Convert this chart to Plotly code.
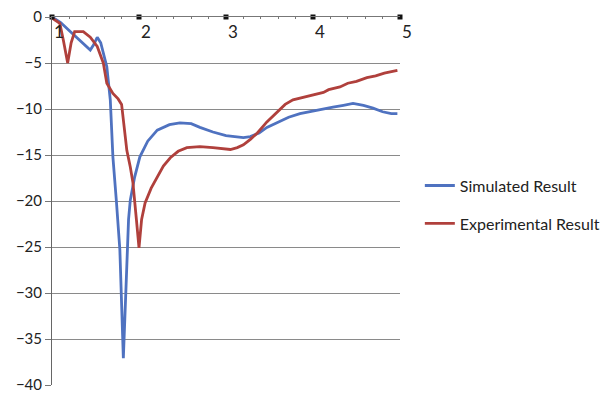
import plotly.graph_objects as go

# Simulated response
sim_x = [1.0, 1.1, 1.2, 1.32, 1.4, 1.44, 1.48, 1.52, 1.56, 1.6, 1.63, 1.67, 1.7, 1.74,
         1.78, 1.82, 1.86, 1.88, 1.9, 1.95, 2.01, 2.1, 2.21, 2.35, 2.47, 2.6, 2.7, 2.85,
         3.0, 3.08, 3.2, 3.28, 3.38, 3.47, 3.6, 3.72, 3.85, 4.0, 4.1, 4.23, 4.35, 4.46,
         4.58, 4.69, 4.8, 4.9, 4.97]
sim_y = [0.0, -0.6, -1.5, -2.5, -3.2, -3.6, -3.0, -2.2, -2.8, -4.2, -5.4, -9.0, -15.2, -20.0,
         -25.3, -37.1, -27.2, -22.0, -19.9, -17.4, -15.2, -13.5, -12.3, -11.7, -11.5, -11.6, -12.0, -12.5,
         -12.9, -13.0, -13.1, -13.0, -12.6, -12.0, -11.4, -10.9, -10.5, -10.2, -10.0, -9.8, -9.6, -9.4,
         -9.6, -9.9, -10.3, -10.5, -10.5]

# Measured response
exp_x = [1.0, 1.09, 1.13, 1.18, 1.22, 1.26, 1.36, 1.44, 1.52, 1.59, 1.63, 1.7, 1.76, 1.8,
         1.83, 1.86, 1.9, 1.93, 1.97, 2.0, 2.03, 2.07, 2.14, 2.21, 2.28, 2.36, 2.45, 2.55,
         2.7, 2.85, 3.05, 3.13, 3.2, 3.28, 3.36, 3.47, 3.59, 3.68, 3.77, 3.9, 4.05, 4.12,
         4.18, 4.31, 4.4, 4.5, 4.62, 4.72, 4.82, 4.9, 4.97]
exp_y = [-0.1, -0.7, -2.5, -5.0, -2.8, -1.6, -1.6, -2.2, -3.2, -5.0, -7.2, -8.3, -8.9, -9.5,
         -12.0, -14.5, -16.3, -18.0, -22.0, -25.1, -22.0, -20.2, -18.6, -17.4, -16.2, -15.3, -14.6, -14.2,
         -14.1, -14.2, -14.4, -14.2, -13.9, -13.3, -12.6, -11.4, -10.3, -9.5, -9.0, -8.7, -8.3, -8.2,
         -7.9, -7.6, -7.2, -7.0, -6.6, -6.4, -6.1, -5.9, -5.8]

x_ticks = [1, 2, 3, 4, 5]
x_tick_labels = ["1", "2", "3", "4", "5"]
y_ticks = [0, -5, -10, -15, -20, -25, -30, -35, -40]

fig = go.Figure()

fig.add_trace(go.Scatter(
    x=sim_x, y=sim_y, mode="lines", name="Simulated Result",
    line=dict(color="#4F72C0", width=2.8), legendgroup="sim",
))
fig.add_trace(go.Scatter(
    x=exp_x, y=exp_y, mode="lines", name="Experimental Result",
    line=dict(color="#B0403C", width=2.8), legendgroup="exp",
))
# small square markers on the top axis at each tick
fig.add_trace(go.Scatter(
    x=x_ticks, y=[0] * len(x_ticks), mode="markers", showlegend=False,
    marker=dict(symbol="square", size=5, color="#111111"), cliponaxis=False,
))

# x tick labels sit just below and right of the top axis line
for xv, lab in zip(x_ticks, x_tick_labels):
    fig.add_annotation(
        x=xv, y=0, xref="x", yref="y", text=lab, showarrow=False,
        xanchor="left", yanchor="middle", xshift=0, yshift=-14,
        font=dict(size=17, color="#222222"),
    )

fig.update_layout(
    width=603, height=397,
    margin=dict(l=52, r=203, t=17, b=12, autoexpand=False),
    paper_bgcolor="white", plot_bgcolor="white",
    font=dict(family="Lato, 'Open Sans', sans-serif", color="#222222"),
    legend=dict(
        x=1.057, y=0.588, xanchor="left", yanchor="top",
        font=dict(size=16, color="#222222"),
        tracegroupgap=14, traceorder="grouped",
        bgcolor="rgba(0,0,0,0)",
    ),
)

fig.update_xaxes(
    range=[1, 5], side="top", showticklabels=False, ticks="",
    showgrid=False, zeroline=False,
    showline=True, linecolor="#777777", linewidth=1,
    minor=dict(ticks="inside", ticklen=2, tickcolor="#777777", nticks=5),
)
fig.update_yaxes(
    range=[-40, 0], tickmode="array", tickvals=y_ticks,
    ticks="outside", ticklen=6, tickcolor="#777777",
    tickfont=dict(size=15, color="#222222"),
    showgrid=True, gridcolor="#8a8a8a", gridwidth=1,
    zeroline=False, showline=True, linecolor="#666666", linewidth=1,
)

fig.write_html("out.html")
